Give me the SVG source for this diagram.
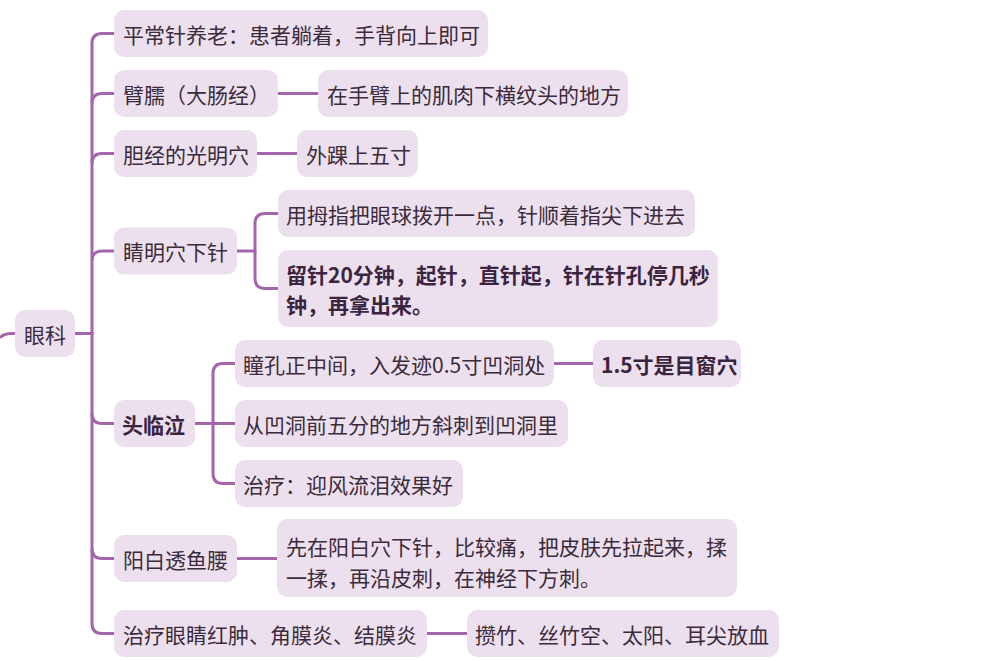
<svg xmlns="http://www.w3.org/2000/svg" width="996" height="661" viewBox="0 0 996 661">
<style>
.box{fill:#ede0ee;}
.t{font-family:"Noto Sans CJK SC","Noto Sans",sans-serif;font-size:21px;fill:#3b2b3b;dominant-baseline:central;}
.b{font-weight:bold;fill:#3a2440;}
.c{fill:none;stroke:#a465ab;stroke-width:3;stroke-linecap:butt;}
</style>
<rect width="996" height="661" fill="#ffffff"/>
<g id="connectors">
<path class="c" d="M0 338 Q3 333.5 12 333.5 H15"/>
<path class="c" d="M75 333.5 H92 V43.5 Q92 33.5 102 33.5 H114"/>
<path class="c" d="M92 103.5 Q92 93.5 102 93.5 H114"/>
<path class="c" d="M92 163.5 Q92 153.5 102 153.5 H114"/>
<path class="c" d="M92 261 Q92 251 102 251 H114"/>
<path class="c" d="M75 333.5 H92 V623.5 Q92 633.5 102 633.5 H114"/>
<path class="c" d="M92 413.5 Q92 423.5 102 423.5 H114"/>
<path class="c" d="M92 548.5 Q92 558.5 102 558.5 H114"/>
<path class="c" d="M278 93.5 H318"/>
<path class="c" d="M257 153.5 H297"/>
<path class="c" d="M237 251 H255 V223.5 Q255 213.5 265 213.5 H278"/>
<path class="c" d="M255 251 V278.5 Q255 288.5 265 288.5 H278"/>
<path class="c" d="M195 423.5 H235"/>
<path class="c" d="M213 423.5 V373.5 Q213 363.5 223 363.5 H235"/>
<path class="c" d="M213 423.5 V473.5 Q213 483.5 223 483.5 H235"/>
<path class="c" d="M554 363.5 H593"/>
<path class="c" d="M237 558.5 H277"/>
<path class="c" d="M427 633.5 H467"/>
</g>
<g id="n-root"><rect class="box" x="15" y="310" width="60" height="47" rx="10"/><text class="t" x="24" y="333.5">眼科</text></g>
<g id="n1"><rect class="box" x="114" y="10" width="374" height="47" rx="10"/><text class="t" x="123" y="33.5">平常针养老：患者躺着，手背向上即可</text></g>
<g id="n2"><rect class="box" x="114" y="70" width="164" height="47" rx="10"/><text class="t" x="123" y="93.5">臂臑（大肠经）</text></g>
<g id="n2a"><rect class="box" x="318" y="70" width="310" height="47" rx="10"/><text class="t" x="327" y="93.5">在手臂上的肌肉下横纹头的地方</text></g>
<g id="n3"><rect class="box" x="114" y="130" width="143" height="47" rx="10"/><text class="t" x="123" y="153.5">胆经的光明穴</text></g>
<g id="n3a"><rect class="box" x="297" y="130" width="121" height="47" rx="10"/><text class="t" x="306" y="153.5">外踝上五寸</text></g>
<g id="n4"><rect class="box" x="114" y="227.5" width="123" height="47" rx="10"/><text class="t" x="123" y="251">睛明穴下针</text></g>
<g id="n4a"><rect class="box" x="278" y="190" width="417" height="47" rx="10"/><text class="t" x="286" y="213.5">用拇指把眼球拨开一点，针顺着指尖下进去</text></g>
<g id="n4b"><rect class="box" x="278" y="250" width="440" height="77" rx="10"/><text class="t b" x="286" y="274">留针20分钟，起针，直针起，针在针孔停几秒</text><text class="t b" x="286" y="304">钟，再拿出来。</text></g>
<g id="n5"><rect class="box" x="114" y="400" width="81" height="47" rx="10"/><text class="t b" x="122" y="423.5">头临泣</text></g>
<g id="n5a"><rect class="box" x="235" y="340" width="319" height="47" rx="10"/><text class="t" x="243" y="363.5">瞳孔正中间，入发迹0.5寸凹洞处</text></g>
<g id="n5a1"><rect class="box" x="593" y="340" width="148" height="47" rx="10"/><text class="t b" x="601" y="363.5">1.5寸是目窗穴</text></g>
<g id="n5b"><rect class="box" x="235" y="400" width="333" height="47" rx="10"/><text class="t" x="243" y="423.5">从凹洞前五分的地方斜刺到凹洞里</text></g>
<g id="n5c"><rect class="box" x="235" y="460" width="228" height="47" rx="10"/><text class="t" x="243" y="483.5">治疗：迎风流泪效果好</text></g>
<g id="n6"><rect class="box" x="114" y="535" width="123" height="47" rx="10"/><text class="t" x="123" y="558.5">阳白透鱼腰</text></g>
<g id="n6a"><rect class="box" x="277" y="519" width="460" height="78" rx="10"/><text class="t" x="286" y="546">先在阳白穴下针，比较痛，把皮肤先拉起来，揉</text><text class="t" x="286" y="577">一揉，再沿皮刺，在神经下方刺。</text></g>
<g id="n7"><rect class="box" x="114" y="610" width="313" height="47" rx="10"/><text class="t" x="123" y="633.5">治疗眼睛红肿、角膜炎、结膜炎</text></g>
<g id="n7a"><rect class="box" x="467" y="610" width="312" height="47" rx="10"/><text class="t" x="475" y="633.5">攒竹、丝竹空、太阳、耳尖放血</text></g>
</svg>
